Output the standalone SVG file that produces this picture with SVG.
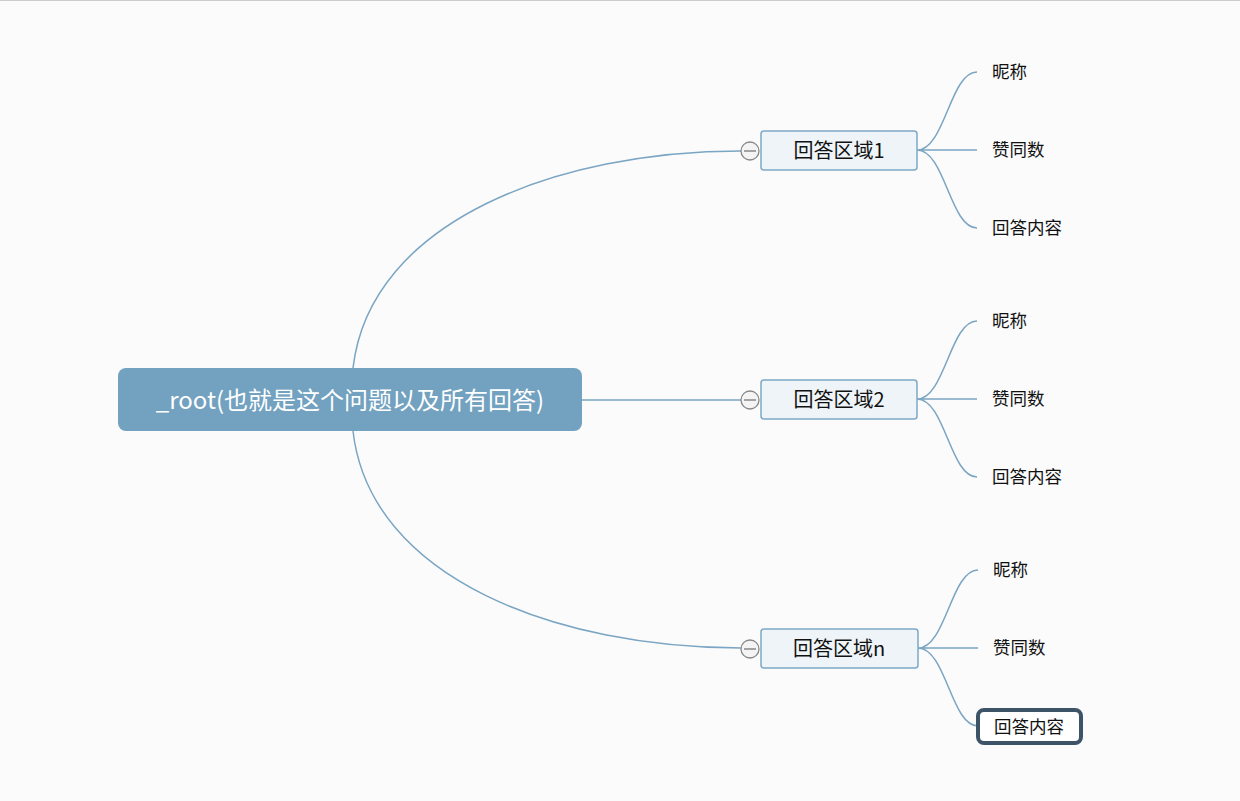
<svg xmlns="http://www.w3.org/2000/svg" width="1240" height="801" viewBox="0 0 1240 801">
<style>
.c{fill:none;stroke:#7aa5c3;stroke-width:1.5}
.b{fill:#eef4f8;stroke:#7ea8c6;stroke-width:1.5}
.t{font-family:"Noto Sans CJK SC","Noto Sans",sans-serif;fill:#111}
.m{fill:#f4f4f4;stroke:#888;stroke-width:1.3}
</style>
<rect width="1240" height="801" fill="#fbfbfb"/>
<line x1="0" y1="0.5" x2="1240" y2="0.5" stroke="#ccc"/>
<g id="connectors">
<path class="c" d="M353 368 C370 220 560 151 741 151"/>
<path class="c" d="M353 431 C370 580 560 648 741 648"/>
<path class="c" d="M582 400 H741"/>
<path class="c" d="M917 150 C945 150 950 72 977 72 M917 150 H977 M917 150 C945 150 950 228 977 228"/>
<path class="c" d="M917 399 C945 399 950 321 977 321 M917 399 H977 M917 399 C945 399 950 477 977 477"/>
<path class="c" d="M918 648 C946 648 951 570 978 570 M918 648 H978 M918 648 C946 648 951 726 978 726"/>
</g>
<g id="root">
<rect x="118" y="368" width="464" height="63" rx="8" fill="#73a2c0"/>
<text x="350" y="409" text-anchor="middle" font-size="24" class="t" style="fill:#fff">_root(也就是这个问题以及所有回答)</text>
</g>
<g id="n1"><rect class="b" x="761" y="131" width="156" height="39" rx="3"/><text class="t" x="839" y="158" font-size="20" text-anchor="middle">回答区域1</text>
<circle class="m" cx="750" cy="151" r="9"/><line x1="744" y1="151" x2="756" y2="151" stroke="#777" stroke-width="1.3"/></g>
<g id="n2"><rect class="b" x="761" y="380" width="156" height="39" rx="3"/><text class="t" x="839" y="407" font-size="20" text-anchor="middle">回答区域2</text>
<circle class="m" cx="750" cy="400" r="9"/><line x1="744" y1="400" x2="756" y2="400" stroke="#777" stroke-width="1.3"/></g>
<g id="n3"><rect class="b" x="761" y="629" width="157" height="39" rx="3"/><text class="t" x="839" y="656" font-size="20" text-anchor="middle">回答区域n</text>
<circle class="m" cx="750" cy="649" r="9"/><line x1="744" y1="649" x2="756" y2="649" stroke="#777" stroke-width="1.3"/></g>
<g id="l11"><text class="t" x="992" y="78" font-size="17.5">昵称</text></g>
<g id="l12"><text class="t" x="992" y="156" font-size="17.5">赞同数</text></g>
<g id="l13"><text class="t" x="992" y="234" font-size="17.5">回答内容</text></g>
<g id="l21"><text class="t" x="992" y="327" font-size="17.5">昵称</text></g>
<g id="l22"><text class="t" x="992" y="405" font-size="17.5">赞同数</text></g>
<g id="l23"><text class="t" x="992" y="483" font-size="17.5">回答内容</text></g>
<g id="l31"><text class="t" x="993" y="576" font-size="17.5">昵称</text></g>
<g id="l32"><text class="t" x="993" y="654" font-size="17.5">赞同数</text></g>
<g id="l33"><rect x="978" y="710" width="103" height="33" rx="6" fill="#fff" stroke="#3d5468" stroke-width="4"/><text class="t" x="1029" y="733" font-size="17.5" text-anchor="middle">回答内容</text></g>
</svg>
